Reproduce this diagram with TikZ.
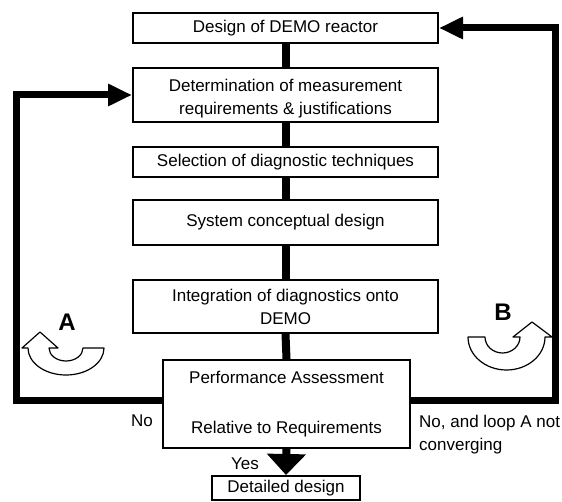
\documentclass[tikz,border=0pt]{standalone}
\usepackage{fontspec}
\setmainfont{Liberation Sans}
\usetikzlibrary{arrows.meta}
\begin{document}
\begin{tikzpicture}[x=1pt,y=1pt,
  box/.style={draw,line width=2pt,fill=white,minimum width=305pt,inner sep=0pt,align=center,font=\fontsize{17}{23}\selectfont},
  conn/.style={line width=8pt},
  loopline/.style={line width=7pt,-{Triangle[length=24pt,width=21pt]}},
  lbl/.style={inner sep=0pt,font=\fontsize{17}{23}\selectfont},
  big/.style={inner sep=0pt,font=\fontsize{24}{24}\selectfont\bfseries},
  curv/.style={draw,line width=1.2pt,fill=white,line join=round}]
\useasboundingbox (0,0) rectangle (562,501);
\node[box,minimum height=30pt] (B1) at (285.5,473) {Design of DEMO reactor};
\node[box,minimum height=54pt] (B2) at (285.5,406) {\rule{0pt}{20pt}Determination of measurement\\requirements \& justifications};
\node[box,minimum height=30pt] (B3) at (285.5,339) {Selection of diagnostic techniques};
\node[box,minimum height=45pt] (B4) at (285.5,278.5) {System conceptual design};
\node[box,minimum height=53pt] (B5) at (285.5,194.5) {Integration of diagnostics onto\\DEMO};
\node[box,minimum width=247pt,minimum height=88pt] (B6) at (286.5,97) {Performance Assessment\\[27pt]Relative to Requirements};
\node[box,minimum width=148pt,minimum height=24pt] (B7) at (286,13) {Detailed design};
\draw[conn] (B1.south) -- (B2.north);
\draw[conn] (B2.south) -- (B3.north);
\draw[conn] (B3.south) -- (B4.north);
\draw[conn] (B4.south) -- (B5.north);
\draw[conn] (B5.south) -- (B6.north);
\draw[line width=8pt,-{Triangle[length=21pt,width=38pt]}] (B6.south) -- (B7.north);
\draw[loopline] ([yshift=4pt]B6.west) -- (16.5,101) |- (B2.west);
\draw[loopline] ([yshift=4pt]B6.east) -- (555,101) |- (B1.east);
\node[lbl] (no1) at (142,80) {No};
\node[lbl,align=left,anchor=west] (no2) at (419,66.5) {No, and loop A not\\converging};
\node[lbl] (yes) at (245,37) {Yes};
\node[big] (A) at (67,179) {A};
\node[big] (B) at (503,189) {B};
\path[curv] (104,153) arc[start angle=0,end angle=-180,x radius=38,y radius=27]
  -- (22,153) -- (40,169) -- (58,153) -- (49,153)
  arc[start angle=180,end angle=360,x radius=17,y radius=13] -- cycle;
\path[curv] (468,164) arc[start angle=180,end angle=360,x radius=38.5,y radius=33]
  -- (552,164) -- (532,179) -- (513,164) -- (520,164)
  arc[start angle=0,end angle=-180,x radius=17.5,y radius=16] -- cycle;
\end{tikzpicture}
\end{document}
